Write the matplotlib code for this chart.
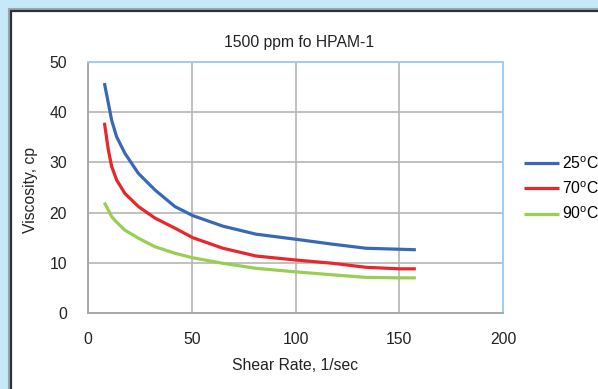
import matplotlib
matplotlib.use("Agg")
import matplotlib.pyplot as plt
from matplotlib.patches import Rectangle

plt.rcParams['font.family'] = ['Liberation Sans', 'DejaVu Sans']
plt.rcParams['mathtext.fontset'] = 'custom'
plt.rcParams['mathtext.rm'] = 'Liberation Sans'

shear_rate = [7.9, 9.8, 11.4, 13.8, 17.8, 24.3, 32.3, 41.9, 50.5, 65, 81, 100, 118, 134, 150, 158]
visc_25 = [45.8, 41.8, 38.4, 35.1, 31.8, 27.8, 24.5, 21.2, 19.4, 17.3, 15.7, 14.7, 13.7, 12.9, 12.7, 12.6]
visc_70 = [37.9, 32.5, 29.2, 26.5, 23.8, 21.2, 18.9, 16.9, 15.0, 12.9, 11.35, 10.56, 9.9, 9.1, 8.8, 8.8]
visc_90 = [22.0, 20.5, 19.2, 18.1, 16.5, 14.9, 13.2, 11.9, 11.0, 9.9, 8.9, 8.2, 7.6, 7.1, 7.0, 7.0]
labels = ['25$^\\mathrm{o}$C', '70$^\\mathrm{o}$C', '90$^\\mathrm{o}$C']
colors = ['#3a68b8', '#e8262b', '#9acd55']
x_ticks = [0, 50, 100, 150, 200]
y_ticks = [0, 10, 20, 30, 40, 50]

W, H = 598, 389
FS = 11.3
fig = plt.figure(figsize=(W / 100, H / 100), dpi=100)
fig.patch.set_facecolor('#c6e9f8')
# white panel with dark frame
fig.patches.append(Rectangle((9 / W, -0.1), 1.2, 1 - 9 / H + 0.1, transform=fig.transFigure,
                             facecolor='none', edgecolor='#9aa7b0', linewidth=1.5, zorder=-20))
fig.patches.append(Rectangle((11 / W, -0.1), 1.2, 1 - 11 / H + 0.1, transform=fig.transFigure,
                             facecolor='white', edgecolor='#2b3238', linewidth=1.6, zorder=-10))

ax = fig.add_axes([88 / W, 1 - 313 / H, 415 / W, 251 / H])
ax.set_facecolor('white')
lines = []
for y, c, lab in zip([visc_25, visc_70, visc_90], colors, labels):
    l, = ax.plot(shear_rate, y, color=c, linewidth=2.3, label=lab,
                 solid_capstyle='butt', solid_joinstyle='round')
    lines.append(l)

ax.set_xlim(0, 200)
ax.set_ylim(0, 50)
ax.set_xticks(x_ticks)
ax.set_yticks(y_ticks)
ax.grid(True, color='#b5b5b5', linewidth=1.2)
ax.set_axisbelow(True)
ax.tick_params(length=0, labelsize=FS, colors='#222222')
ax.tick_params(axis='x', pad=14)
ax.tick_params(axis='y', pad=15)
for s in ['left', 'bottom']:
    ax.spines[s].set_color('#a8a8a8')
    ax.spines[s].set_linewidth(1.4)
for s in ['top', 'right']:
    ax.spines[s].set_color('#9fd0f2')
    ax.spines[s].set_linewidth(1.4)

fig.text(299 / W, 1 - 42 / H, '1500 ppm fo HPAM-1', ha='center', va='center', fontsize=FS, color='#222222')
fig.text(295 / W, 1 - 365 / H, 'Shear Rate, 1/sec', ha='center', va='center', fontsize=FS, color='#222222')
fig.text(31 / W, 1 - 190 / H, 'Viscosity, cp', ha='center', va='center', rotation=90, fontsize=FS, color='#222222')

fig.legend(handles=lines, loc='upper left', bbox_to_anchor=(524 / W, 1 - 155 / H),
           frameon=False, fontsize=FS, handlelength=2.25, handletextpad=0.15,
           labelspacing=0.55, borderaxespad=0, borderpad=0)

fig.savefig('out.png', dpi=100, facecolor=fig.get_facecolor())
